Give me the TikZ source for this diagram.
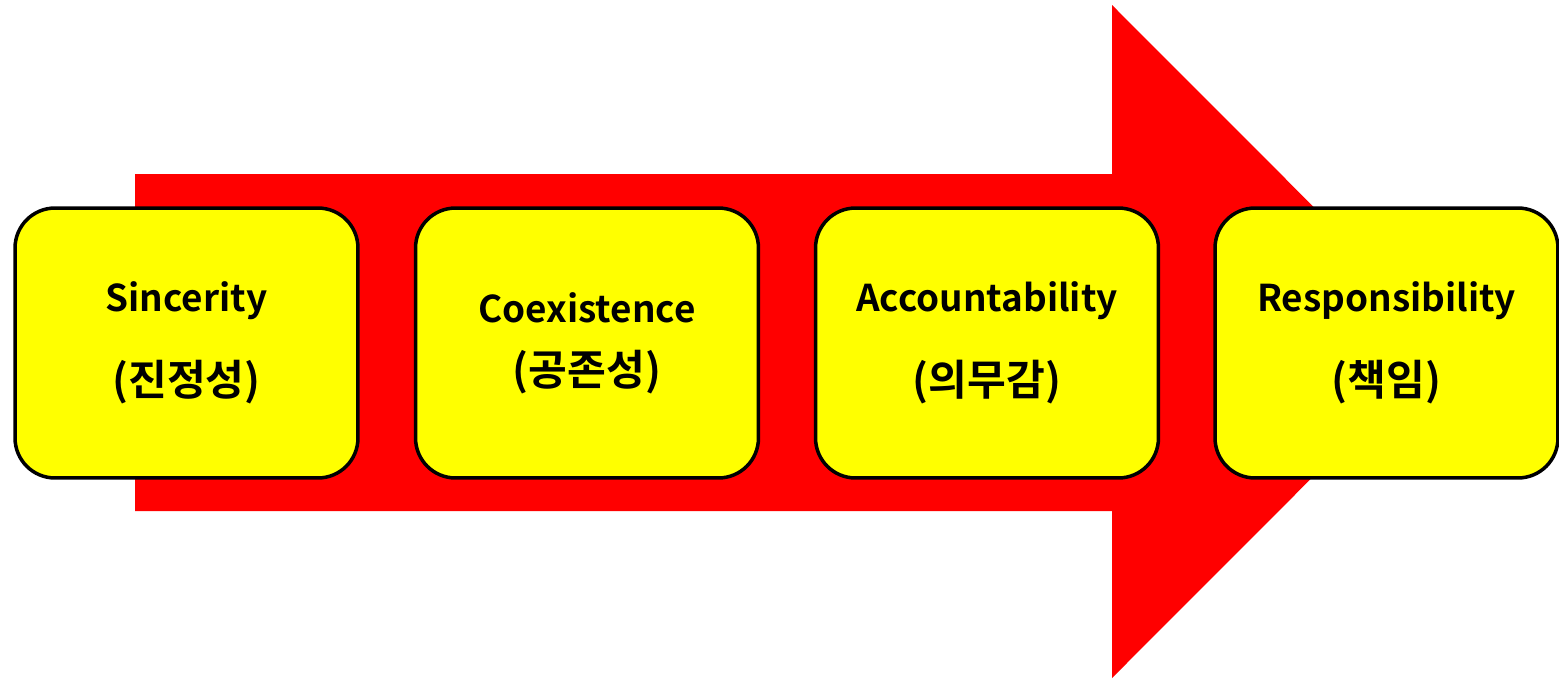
\documentclass[tikz,border=0pt]{standalone}
\usepackage{fontspec}
\setmainfont{Noto Sans CJK KR}[BoldFont={* Bold}]
\usepackage{tikz}
\usetikzlibrary{positioning}
\usepackage{xcolor}
\definecolor{arrowred}{RGB}{255,0,0}
\definecolor{boxyellow}{RGB}{255,255,0}
\tikzstyle{stagebox} = [rectangle, rounded corners=0.8cm, minimum width=6.86cm, minimum height=5.4cm, align=center, draw=black, fill=boxyellow, line width=2pt, font=\fontsize{21}{25}\selectfont\bfseries]
\newcommand{\kr}[1]{{\fontsize{24}{28}\selectfont #1}}

\begin{document}
\begin{tikzpicture}[x=0.02cm, y=-0.02cm]
\useasboundingbox (0,0) rectangle (1559,680);
% Big arrow behind the stages
\fill[arrowred] (135,174) -- (1112,174) -- (1112,5) -- (1448,341.5) -- (1112,678) -- (1112,511) -- (135,511) -- cycle;

% Stages
\node[stagebox] (sincerity) at (186.5,343) {Sincerity\\[0.8cm]\kr{(진정성)}};
\node[stagebox] (coexist) at (587,343) {Coexistence\\[0.38cm]\kr{(공존성)}};
\node[stagebox] (account) at (987,343) {Accountability\\[0.8cm]\kr{(의무감)}};
\node[stagebox] (respons) at (1386.5,343) {Responsibility\\[0.8cm]\kr{(책임)}};
\end{tikzpicture}
\end{document}
